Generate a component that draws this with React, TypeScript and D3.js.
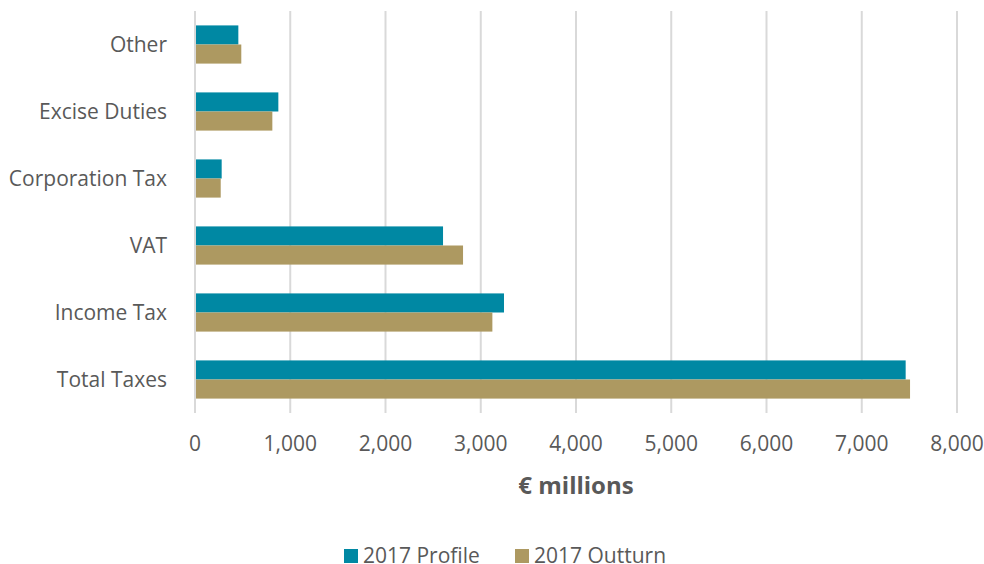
import React from "react";
import * as d3 from "d3";

const categories = ["Other", "Excise Duties", "Corporation Tax", "VAT", "Income Tax", "Total Taxes"];
const profile2017 = [455, 875, 280, 2604, 3244, 7461];
const outturn2017 = [486, 812, 270, 2814, 3122, 7507];
const xTicks = [0, 1000, 2000, 3000, 4000, 5000, 6000, 7000, 8000];
const seriesNames = ["2017 Profile", "2017 Outturn"];
const colors = ["#0088a3", "#ad9961"];

const W = 984;
const H = 564;
const FONT = "'Open Sans', sans-serif";

export default function App() {
  const left = 195, right = 957, top = 11, bottom = 413;
  const x = d3.scaleLinear().domain([0, 8000]).range([left, right]);
  const y = d3.scaleBand<string>().domain(categories).range([top, bottom]).paddingInner(0.43).paddingOuter(0.215);
  const inner = d3.scaleBand<number>().domain([0, 1]).range([0, y.bandwidth()]);
  const fmt = d3.format(",");
  const series = [profile2017, outturn2017];
  const legendX = [344, 515];

  return (
    <div style={{ position: "fixed", left: 0, top: 0, width: W, height: H, overflow: "hidden" }}>
      <svg width={W} height={H} style={{ display: "block", fontFamily: FONT }}>
        <rect width={W} height={H} fill="#fff" />
        {xTicks.map((t) => (
          <line key={t} x1={x(t)} x2={x(t)} y1={top} y2={bottom} stroke="#d9d9d9" strokeWidth={2} />
        ))}
        {series.map((vals, si) =>
          categories.map((c, i) => (
            <rect
              key={si + "-" + c}
              x={x(0)}
              y={(y(c) as number) + (inner(si) as number)}
              width={x(vals[i]) - x(0)}
              height={inner.bandwidth()}
              fill={colors[si]}
            />
          ))
        )}
        <line x1={x(0)} x2={x(0)} y1={top} y2={bottom} stroke="#d9d9d9" strokeWidth={2} />
        {categories.map((c) => (
          <text key={c} x={167} y={(y(c) as number) + y.bandwidth() / 2} dy="0.35em" textAnchor="end" fontSize={21} fill="#595959">
            {c}
          </text>
        ))}
        {xTicks.map((t) => (
          <text key={t} x={x(t)} y={444} dy="0.35em" textAnchor="middle" fontSize={21} fill="#595959">
            {fmt(t)}
          </text>
        ))}
        <text x={(left + right) / 2} y={486} dy="0.35em" textAnchor="middle" fontSize={24} fontWeight="bold" fill="#595959">
          € millions
        </text>
        {seriesNames.map((s, i) => {
          const lx = legendX[i];
          return (
            <g key={s}>
              <rect x={lx} y={549} width={14} height={14} fill={colors[i]} />
              <text x={lx + 19} y={563} fontSize={21} fill="#595959">
                {s}
              </text>
            </g>
          );
        })}
      </svg>
    </div>
  );
}
